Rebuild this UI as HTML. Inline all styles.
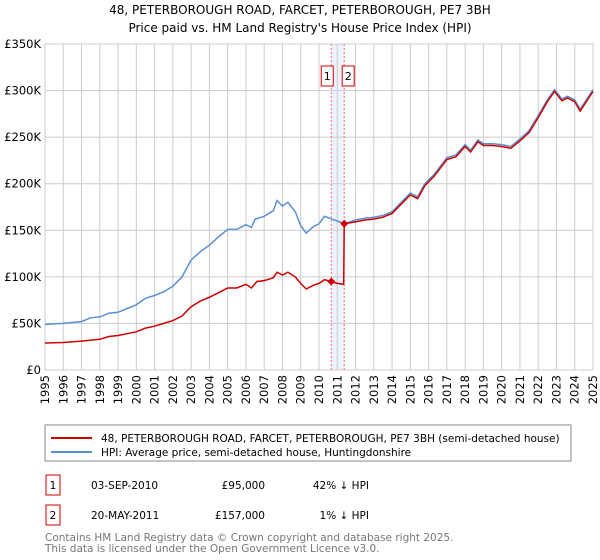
<!DOCTYPE html>
<html><head><meta charset="utf-8"><style>
body{margin:0;background:#fff;font-family:"Liberation Sans","DejaVu Sans",sans-serif;}
#wrap{position:relative;width:600px;height:560px;overflow:hidden;}
svg text{font-family:"DejaVu Sans","Liberation Sans",sans-serif;}
</style></head><body>
<div id="wrap">
<svg id="chart" width="600" height="560" viewBox="0 0 600 560">
<text x="300" y="14" text-anchor="middle" font-size="12" fill="#000">48, PETERBOROUGH ROAD, FARCET, PETERBOROUGH, PE7 3BH</text>
<text x="300" y="32" text-anchor="middle" font-size="12" fill="#000">Price paid vs. HM Land Registry's House Price Index (HPI)</text>
<g id="grid"></g><g id="axes"></g><g id="series"></g>
<rect x="45" y="425" width="526" height="36" fill="#fff" stroke="#888"/>
<line x1="51" y1="438" x2="92" y2="438" stroke="#cc0000" stroke-width="2"/>
<text x="101" y="442" font-size="10.5">48, PETERBOROUGH ROAD, FARCET, PETERBOROUGH, PE7 3BH (semi-detached house)</text>
<line x1="51" y1="452" x2="92" y2="452" stroke="#5b8fd4" stroke-width="2"/>
<text x="101" y="456" font-size="10.5">HPI: Average price, semi-detached house, Huntingdonshire</text>
<rect x="46" y="475" width="14" height="20" fill="none" stroke="#cc0000"/>
<text x="53" y="489" font-size="10.5" text-anchor="middle">1</text>
<text x="91" y="489" font-size="10.5">03-SEP-2010</text>
<text x="265" y="489" font-size="10.5" text-anchor="end">£95,000</text>
<text x="369" y="489" font-size="10.5" text-anchor="end">42% ↓ HPI</text>
<rect x="46" y="505" width="14" height="20" fill="none" stroke="#cc0000"/>
<text x="53" y="519" font-size="10.5" text-anchor="middle">2</text>
<text x="91" y="519" font-size="10.5">20-MAY-2011</text>
<text x="265" y="519" font-size="10.5" text-anchor="end">£157,000</text>
<text x="369" y="519" font-size="10.5" text-anchor="end">1% ↓ HPI</text>
<text x="45" y="541" font-size="10.5" fill="#777">Contains HM Land Registry data © Crown copyright and database right 2025.</text>
<text x="45" y="552" font-size="10.5" fill="#777">This data is licensed under the Open Government Licence v3.0.</text>
</svg>
</div>
<script>
const yearTicks=[1995,1996,1997,1998,1999,2000,2001,2002,2003,2004,2005,2006,2007,2008,2009,2010,2011,2012,2013,2014,2015,2016,2017,2018,2019,2020,2021,2022,2023,2024,2025];
const valueTicks=[0,50000,100000,150000,200000,250000,300000,350000];
const valueLabels=["£0","£50K","£100K","£150K","£200K","£250K","£300K","£350K"];
const hpiDates=[1995,1996,1997,1997.5,1998,1998.5,1999,1999.5,2000,2000.5,2001,2001.5,2002,2002.5,2003,2003.5,2004,2004.5,2005,2005.5,2006,2006.3,2006.5,2007,2007.5,2007.7,2008,2008.3,2008.7,2009,2009.3,2009.7,2010,2010.3,2010.7,2011,2011.4,2012,2012.5,2013,2013.5,2014,2014.5,2015,2015.4,2015.8,2016.3,2017,2017.5,2018,2018.3,2018.7,2019,2019.5,2020,2020.5,2021,2021.5,2022,2022.5,2022.9,2023.3,2023.6,2024,2024.3,2024.7,2025];
const hpiValues=[49,50,52,56,57,61,62,66,70,77,80,84,90,100,118,127,134,143,151,151,156,153,162,165,171,182,176,180,170,155,147,154,157,165,162,160,157,161,163,164,166,170,180,190,186,200,210,228,231,242,236,247,243,243,242,240,248,257,273,290,301,291,294,290,280,292,301];
const priceDates=[1995,1996,1997,1998,1998.5,1999,1999.5,2000,2000.5,2001,2001.5,2002,2002.5,2003,2003.5,2004,2004.5,2005,2005.5,2006,2006.3,2006.6,2007,2007.5,2007.7,2008,2008.3,2008.7,2009,2009.3,2009.7,2010,2010.3,2010.67,2011,2011.35,2011.38,2012,2012.5,2013,2013.5,2014,2014.5,2015,2015.4,2015.8,2016.3,2017,2017.5,2018,2018.3,2018.7,2019,2019.5,2020,2020.5,2021,2021.5,2022,2022.5,2022.9,2023.3,2023.6,2024,2024.3,2024.7,2025];
const priceValues=[29,29.5,31,33,36,37,39,41,45,47,50,53,58,68,74,78,83,88,88,92,88,95,96,99,105,102,105,100,93,87,91,93,97,95,93,92,157,159,161,162,164,168,178,188,184,198,208,226,229,240,234,245,241,241,240,238,246,255,271,288,299,289,292,288,278,290,299];
const saleDates=[2010.67,2011.38];
const saleValues=[95,157];
const saleLabels=["1","2"];

const X0=45,X1=593,Y0=370,Y1=44;
const xs=t=>X0+(t-1995)/30*(X1-X0);
const ys=v=>Y0-v/350000*(Y0-Y1);
const NS="http://www.w3.org/2000/svg";
function mk(parent,tag,attrs){const e=document.createElementNS(NS,tag);for(const k in attrs)e.setAttribute(k,attrs[k]);parent.appendChild(e);return e;}
const grid=document.getElementById('grid'),axes=document.getElementById('axes'),series=document.getElementById('series');
const bg=mk(grid,'rect',{x:X0,y:Y1,width:X1-X0,height:Y0-Y1,fill:'#fff',stroke:'#ccc'});


const shade=mk(grid,'rect',{x:xs(saleDates[0]),y:Y1,width:xs(saleDates[1])-xs(saleDates[0]),height:Y0-Y1,fill:'#eef2fb'});


yearTicks.forEach(y=>{
 const l=mk(grid,'line',{x1:xs(y),x2:xs(y),y1:Y1,y2:Y0,stroke:'#ccc','stroke-width':1});
 
 
 const tx=xs(y)+4, ty=Y0+5;
 const t=mk(axes,'text',{x:tx,y:ty,transform:'rotate(-90 '+tx+' '+ty+')','text-anchor':'end','font-size':11.5});
 t.textContent=y;
 
 
});
valueTicks.forEach((v,i)=>{
 const l=mk(grid,'line',{x1:X0,x2:X1,y1:ys(v),y2:ys(v),stroke:'#ccc','stroke-width':1});
 
 
 const t=mk(axes,'text',{x:X0-4,y:ys(v)+4,'text-anchor':'end','font-size':11.5});
 t.textContent=valueLabels[i];
 
 
});
saleDates.forEach((d,i)=>{
 const l=mk(grid,'line',{x1:xs(d),x2:xs(d),y1:Y1,y2:Y0,stroke:'#f07070','stroke-dasharray':'2,2'});
 
 
});
function path(d,v,color,name){
 const p=mk(series,'path',{d:d.map((t,i)=>(i?'L':'M')+xs(t).toFixed(1)+','+ys(v[i]*1000).toFixed(1)).join(''),fill:'none',stroke:color,'stroke-width':1.5});
 
 
}
path(hpiDates,hpiValues,'#5b8fd4','hpi-line');
path(priceDates,priceValues,'#cc0000','price-paid-line');
saleDates.forEach((d,i)=>{
 const c=mk(series,'path',{d:`M${xs(d)},${ys(saleValues[i]*1000)-4}l4,4l-4,4l-4,-4z`,fill:'#cc0000'});
 
 
 const bx=i===0?xs(d)-10:xs(d)-2;
 const r=mk(series,'rect',{x:bx,y:66,width:12,height:20,fill:'#fff',stroke:'#cc0000'});
 
 
 const t=mk(series,'text',{x:bx+6,y:80,'text-anchor':'middle','font-size':11});
 t.textContent=saleLabels[i];
 
 
});
</script>
</body></html>
